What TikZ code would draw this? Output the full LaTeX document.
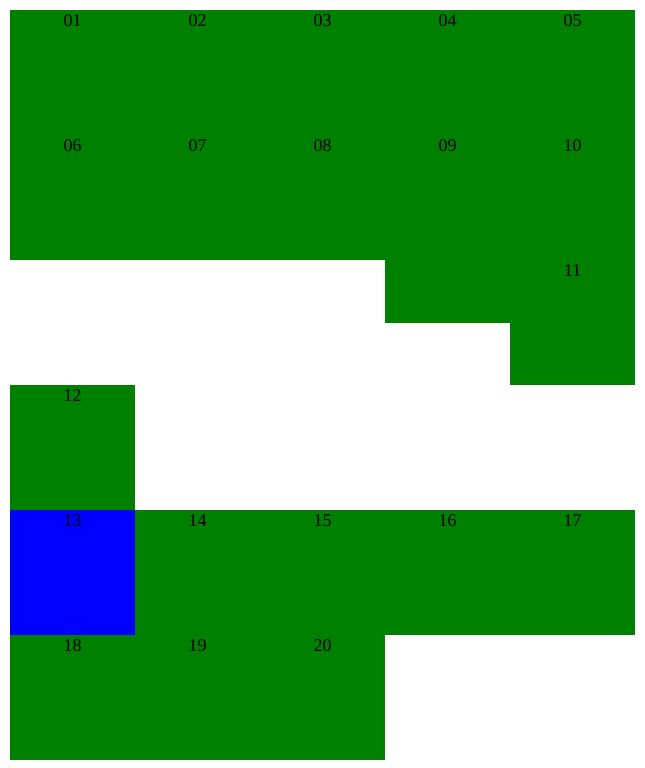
\documentclass[tikz,border=0pt]{standalone}
\usepackage{fontspec}
\setmainfont{Liberation Serif}
\usetikzlibrary{positioning}
\definecolor{cellgreen}{HTML}{008000}
\definecolor{cellblue}{HTML}{0000FF}
\tikzset{
  greencell/.style={fill=cellgreen,draw=none},
  bluecell/.style={fill=cellblue,draw=none},
  num/.style={font=\fontsize{13.5}{16}\selectfont,anchor=base,inner sep=0pt,text=black}
}

\begin{document}
\begin{tikzpicture}[x=0.75pt,y=-0.75pt]
  \useasboundingbox (0,0) rectangle (645,768);
  % filled cells
  \fill[greencell] (10,10) rectangle (635,260);
  \fill[greencell] (385,260) rectangle (635,322.5);
  \fill[greencell] (510,260) rectangle (635,385);
  \fill[greencell] (10,385) rectangle (135,510);
  \fill[greencell] (135,510) rectangle (635,635);
  \fill[bluecell] (10,510) rectangle (135,635);
  \fill[greencell] (10,635) rectangle (385,760);

  % numbers
  \foreach \n/\cx/\cy in {01/72.5/26,02/197.5/26,03/322.5/26,04/447.5/26,05/572.5/26,
      06/72.5/151,07/197.5/151,08/322.5/151,09/447.5/151,10/572.5/151,
      11/572.5/276,12/72.5/401,
      13/72.5/526,14/197.5/526,15/322.5/526,16/447.5/526,17/572.5/526,
      18/72.5/651,19/197.5/651,20/322.5/651}
    \node[num] (c\n) at (\cx,\cy) {\n};
\end{tikzpicture}
\end{document}
